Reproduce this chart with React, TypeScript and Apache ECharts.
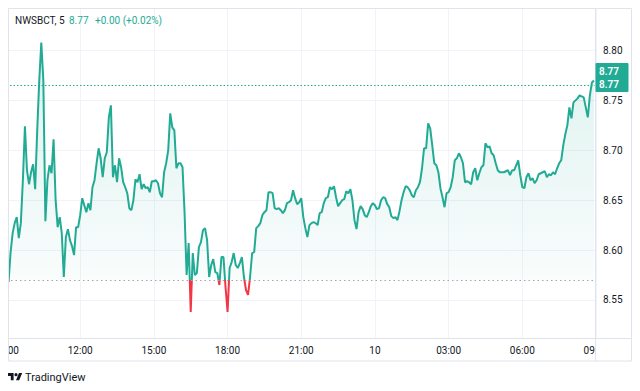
import React, { useEffect, useRef } from "react";
import * as echarts from "echarts";

// ---- data ----
const symbolName = "NWSBCT, 5";
const lastPriceText = "8.77";
const changeText = "+0.00 (+0.02%)";
const brandText = "TradingView";

// 5-minute bars, bar index 0 = 09:00 (first bar is index 1)
const firstBarIndex = 1;
const prices = [
  8.568, 8.598, 8.617, 8.627, 8.633, 8.612, 8.627, 8.670, 8.724, 8.680,
  8.666, 8.678, 8.686, 8.661, 8.720, 8.770, 8.808, 8.770, 8.629, 8.670,
  8.685, 8.677, 8.711, 8.650, 8.623, 8.633, 8.617, 8.573, 8.613, 8.621,
  8.610, 8.604, 8.595, 8.623, 8.623, 8.635, 8.652, 8.645, 8.638, 8.647,
  8.640, 8.663, 8.670, 8.687, 8.702, 8.692, 8.673, 8.692, 8.698, 8.733,
  8.745, 8.673, 8.685, 8.668, 8.692, 8.683, 8.668, 8.663, 8.657, 8.642,
  8.640, 8.650, 8.671, 8.668, 8.676, 8.661, 8.666, 8.662, 8.663, 8.658,
  8.669, 8.669, 8.670, 8.667, 8.657, 8.653, 8.678, 8.687, 8.700, 8.737,
  8.723, 8.720, 8.682, 8.687, 8.687, 8.683, 8.637, 8.575, 8.607, 8.538,
  8.597, 8.575, 8.577, 8.603, 8.608, 8.620, 8.622, 8.610, 8.573, 8.585,
  8.591, 8.578, 8.577, 8.565, 8.593, 8.593, 8.563, 8.538, 8.582, 8.588,
  8.597, 8.585, 8.582, 8.587, 8.593, 8.573, 8.560, 8.555, 8.573, 8.597,
  8.598, 8.622, 8.624, 8.627, 8.635, 8.638, 8.640, 8.658, 8.658, 8.657,
  8.642, 8.641, 8.642, 8.640, 8.637, 8.640, 8.647, 8.648, 8.650, 8.660,
  8.652, 8.646, 8.648, 8.652, 8.633, 8.622, 8.613, 8.625, 8.627, 8.628,
  8.627, 8.625, 8.637, 8.638, 8.647, 8.652, 8.653, 8.663, 8.661, 8.664,
  8.653, 8.644, 8.647, 8.650, 8.651, 8.659, 8.657, 8.661, 8.650, 8.630,
  8.621, 8.638, 8.644, 8.641, 8.635, 8.633, 8.638, 8.644, 8.647, 8.645,
  8.641, 8.642, 8.650, 8.653, 8.652, 8.646, 8.643, 8.634, 8.632, 8.633,
  8.630, 8.639, 8.650, 8.658, 8.664, 8.663, 8.660, 8.655, 8.653, 8.660,
  8.663, 8.668, 8.682, 8.702, 8.702, 8.727, 8.722, 8.705, 8.687, 8.685,
  8.678, 8.662, 8.653, 8.643, 8.657, 8.658, 8.663, 8.673, 8.690, 8.692,
  8.697, 8.693, 8.687, 8.668, 8.669, 8.668, 8.666, 8.678, 8.682, 8.670,
  8.677, 8.683, 8.685, 8.707, 8.703, 8.704, 8.697, 8.695, 8.687, 8.680,
  8.678, 8.678, 8.678, 8.679, 8.680, 8.675, 8.680, 8.680, 8.685, 8.690,
  8.675, 8.663, 8.662, 8.673, 8.677, 8.670, 8.672, 8.667, 8.670, 8.676,
  8.677, 8.678, 8.679, 8.673, 8.676, 8.675, 8.678, 8.676, 8.682, 8.687,
  8.690, 8.705, 8.716, 8.725, 8.743, 8.732, 8.748, 8.750, 8.752, 8.755,
  8.754, 8.753, 8.743, 8.733, 8.755, 8.768, 8.770,
];

const xTickLabels = ["09:00", "12:00", "15:00", "18:00", "21:00", "10", "03:00", "06:00", "09:00"];
const barsPerTick = 36;
const xMax = 288;
const yMin = 8.5119;
const yMax = 8.8426;
const baselineValue = 8.57;
const priceLineValue = 8.765;
const lastPrice = 8.77;

// ---- styles ----
const TEAL = "#22ab94";
const RED = "#f23645";
const GRID = "#f0f3fa";
const BORDER = "#e0e3eb";
const TEXT = "#131722";
const FONT = "Roboto, 'Noto Sans', sans-serif";
const CH_W = 624;
const CH_H = 375;
const LOGO_D =
  "M14 22H7V11H0V4h14v18zM28 22h-8l7.5-18h8L28 22zM16 8a4 4 0 1 0 8 0a4 4 0 1 0-8 0z";

let logoRegistered = false;

export default function App() {
  const ref = useRef<HTMLDivElement>(null);

  useEffect(() => {
    if (!ref.current) return;
    if (!logoRegistered) {
      try {
        echarts.graphic.registerShape("tvlogo", echarts.graphic.extendPath(LOGO_D, {}));
        logoRegistered = true;
      } catch (e) {
        logoRegistered = false;
      }
    }
    const chart = echarts.init(ref.current, null, { renderer: "svg" });
    const data = prices.map((v, i) => [firstBarIndex + i, v]);

    chart.setOption({
      animation: false,
      textStyle: { fontFamily: FONT },
      grid: {
        left: -1.5,
        top: 0,
        width: 589.5,
        height: 330,
        containLabel: false,
        outerBoundsMode: "none",
      },
      xAxis: {
        type: "value",
        min: 0,
        max: xMax,
        interval: barsPerTick,
        axisLine: { show: false },
        axisTick: { show: false },
        splitLine: { show: true, lineStyle: { color: GRID, width: 1 } },
        axisLabel: {
          margin: 7,
          fontSize: 10,
          color: TEXT,
          fontFamily: FONT,
          hideOverlap: false,
          formatter: (v: number) => xTickLabels[Math.round(v / barsPerTick)] ?? "",
        },
      },
      yAxis: {
        type: "value",
        position: "right",
        min: yMin,
        max: yMax,
        axisLine: { show: false },
        axisTick: { show: false },
        splitLine: { show: true, lineStyle: { color: GRID, width: 1 } },
        axisLabel: {
          margin: 7,
          fontSize: 10,
          color: TEXT,
          fontFamily: FONT,
          showMinLabel: false,
          showMaxLabel: false,
          formatter: (v: number) => v.toFixed(2),
        },
      },
      series: [
        {
          type: "line",
          data,
          showSymbol: false,
          symbol: "none",
          clip: true,
          lineStyle: { width: 2, color: TEAL },
          itemStyle: { color: TEAL },
          markLine: {
            silent: true,
            precision: 4,
            symbol: ["none", "none"],
            label: { show: false },
            data: [
              { yAxis: baselineValue, lineStyle: { color: "#a3a6af", type: [1.5, 3], width: 1 } },
              { yAxis: priceLineValue, lineStyle: { color: TEAL, type: [1.5, 2], width: 1 } },
            ],
          },
        },
      ],
    });

    const maxV = Math.max(...prices);
    const yTop = chart.convertToPixel({ yAxisIndex: 0 }, maxV) as number;
    const yBase = chart.convertToPixel({ yAxisIndex: 0 }, baselineValue) as number;
    const yLast = chart.convertToPixel({ yAxisIndex: 0 }, lastPrice) as number;
    const f = yBase / CH_H;

    const graphics: any[] = [
      { type: "rect", id: "cover", z: 50, shape: { x: 588, y: 331, width: 35, height: 21.5 }, style: { fill: "#fff" } },
      { type: "rect", id: "frame", z: 60, shape: { x: 0.5, y: 0.5, width: 623, height: 352.5 }, style: { fill: "none", stroke: BORDER, lineWidth: 1 } },
      { type: "line", id: "sepV", z: 60, shape: { x1: 587.5, y1: 0, x2: 587.5, y2: 353 }, style: { stroke: BORDER, lineWidth: 1 } },
      { type: "line", id: "sepH", z: 60, shape: { x1: 0, y1: 330.5, x2: 624, y2: 330.5 }, style: { stroke: BORDER, lineWidth: 1 } },
      { type: "rect", id: "plab", z: 70, shape: { x: 587.5, y: yLast - 17.5, width: 33, height: 29, r: 1 }, style: { fill: TEAL } },
      { type: "text", id: "plab1", z: 71, x: 591, y: yLast - 8.5, style: { text: lastPriceText, fill: "#fff", font: `600 10px ${FONT}`, verticalAlign: "middle" } },
      { type: "text", id: "plab2", z: 71, x: 591, y: yLast + 4.5, style: { text: lastPriceText, fill: "#fff", font: `600 10px ${FONT}`, verticalAlign: "middle" } },
      { type: "text", id: "h1", z: 70, x: 7, y: 12, style: { text: symbolName, fill: TEXT, font: `10px ${FONT}`, verticalAlign: "middle" } },
      { type: "text", id: "h2", z: 70, x: 61, y: 12, style: { text: lastPriceText, fill: TEAL, font: `10px ${FONT}`, verticalAlign: "middle" } },
      { type: "text", id: "h3", z: 70, x: 87, y: 12, style: { text: changeText, fill: TEAL, font: `10px ${FONT}`, verticalAlign: "middle" } },
      { type: "text", id: "brand", z: 70, x: 17, y: 369, style: { text: brandText, fill: TEXT, font: `11px ${FONT}`, verticalAlign: "middle" } },
    ];
    if (logoRegistered) {
      graphics.push({ type: "tvlogo", id: "logo", z: 70, x: 0, y: 363.5, scaleX: 0.4, scaleY: 0.4, style: { fill: TEXT } });
    }

    chart.setOption({
      series: [
        {
          lineStyle: {
            width: 2,
            color: new echarts.graphic.LinearGradient(
              0, 0, 0, CH_H,
              [
                { offset: 0, color: TEAL },
                { offset: f, color: TEAL },
                { offset: f, color: RED },
                { offset: 1, color: RED },
              ],
              true
            ),
          },
          areaStyle: {
            origin: baselineValue,
            color: new echarts.graphic.LinearGradient(
              0, yTop, 0, yBase,
              [
                { offset: 0, color: "rgba(34,171,148,0.22)" },
                { offset: 0.995, color: "rgba(34,171,148,0.04)" },
                { offset: 1, color: "rgba(34,171,148,0)" },
              ],
              true
            ),
          },
        },
      ],
      graphic: graphics,
    });

    return () => chart.dispose();
  }, []);

  return <div ref={ref} style={{ width: CH_W, height: CH_H }} />;
}
